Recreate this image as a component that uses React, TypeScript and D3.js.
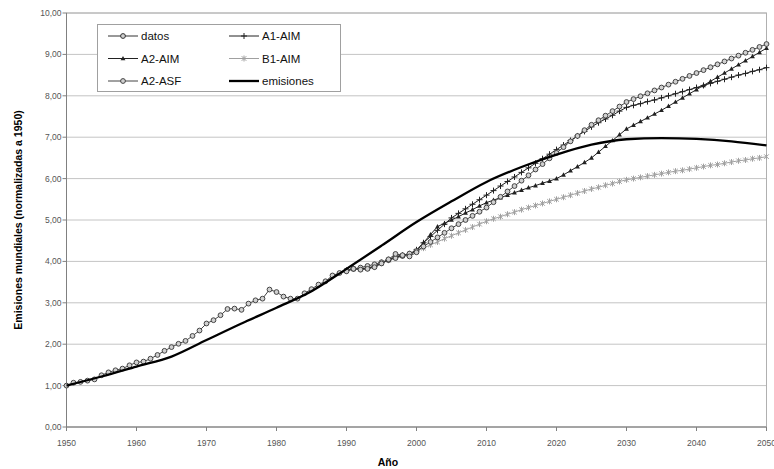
import React from "react";
import * as d3 from "d3";

// Global emissions, normalised to 1950 = 1
const dataYears = d3.range(1950, 2001);
const datos = [
  1.0, 1.07, 1.09, 1.12, 1.15, 1.25, 1.32, 1.37, 1.41, 1.49,
  1.56, 1.58, 1.65, 1.74, 1.84, 1.93, 2.01, 2.08, 2.2, 2.33,
  2.5, 2.58, 2.7, 2.85, 2.86, 2.83, 2.98, 3.06, 3.1, 3.32,
  3.26, 3.15, 3.1, 3.1, 3.23, 3.33, 3.44, 3.52, 3.66, 3.72,
  3.76, 3.82, 3.8, 3.82, 3.86, 3.95, 4.05, 4.18, 4.15, 4.12,
  4.22,
];

const scenarioYears = d3.range(1990, 2051);
const a1Aim = [
  3.78, 3.83, 3.82, 3.84, 3.88, 3.97, 4.04, 4.12, 4.15, 4.18, 4.28,
  4.45, 4.6, 4.75, 4.9, 5.05, 5.16, 5.27, 5.38, 5.49, 5.6,
  5.71, 5.82, 5.93, 6.04, 6.15, 6.26, 6.37, 6.48, 6.59, 6.7,
  6.81, 6.92, 7.03, 7.14, 7.25, 7.35, 7.44, 7.53, 7.63, 7.72,
  7.77, 7.81, 7.86, 7.9, 7.95, 8.0, 8.05, 8.1, 8.15, 8.2,
  8.25, 8.3, 8.35, 8.4, 8.45, 8.5, 8.54, 8.59, 8.63, 8.68,
];
const a2Aim = [
  3.78, 3.82, 3.81, 3.83, 3.87, 3.96, 4.03, 4.1, 4.14, 4.17, 4.25,
  4.45, 4.65, 4.84, 4.92, 5.0, 5.08, 5.17, 5.25, 5.34, 5.42,
  5.48, 5.54, 5.6, 5.66, 5.72, 5.78, 5.83, 5.89, 5.94, 6.0,
  6.09, 6.19, 6.29, 6.39, 6.5, 6.64, 6.78, 6.92, 7.06, 7.2,
  7.29, 7.38, 7.47, 7.56, 7.65, 7.75, 7.85, 7.95, 8.05, 8.15,
  8.25, 8.35, 8.45, 8.55, 8.65, 8.75, 8.85, 8.95, 9.05, 9.15,
];
const b1Aim = [
  3.78, 3.82, 3.81, 3.83, 3.87, 3.96, 4.03, 4.1, 4.14, 4.17, 4.25,
  4.32, 4.4, 4.47, 4.55, 4.62, 4.69, 4.76, 4.83, 4.9, 4.97,
  5.03, 5.08, 5.14, 5.19, 5.25, 5.3, 5.35, 5.4, 5.45, 5.5,
  5.55, 5.6, 5.65, 5.7, 5.75, 5.79, 5.84, 5.88, 5.93, 5.97,
  6.0, 6.03, 6.06, 6.09, 6.12, 6.15, 6.18, 6.2, 6.23, 6.26,
  6.29, 6.32, 6.34, 6.37, 6.4, 6.43, 6.45, 6.48, 6.5, 6.53,
];
const a2Asf = [
  3.78, 3.82, 3.85, 3.89, 3.93, 3.98, 4.03, 4.08, 4.13, 4.19, 4.25,
  4.36, 4.47, 4.58, 4.69, 4.8, 4.9, 5.0, 5.1, 5.2, 5.3,
  5.43, 5.56, 5.69, 5.82, 5.95, 6.08, 6.22, 6.35, 6.49, 6.62,
  6.76, 6.9, 7.03, 7.17, 7.3, 7.41, 7.52, 7.63, 7.74, 7.85,
  7.92, 7.99, 8.06, 8.13, 8.2, 8.27, 8.34, 8.41, 8.48, 8.55,
  8.62, 8.69, 8.76, 8.83, 8.9, 8.97, 9.04, 9.11, 9.18, 9.25,
];

// Smooth emissions curve (5-year points)
const emisionesYears = d3.range(1950, 2051, 5);
const emisiones = [
  1.0, 1.22, 1.46, 1.7, 2.1, 2.5, 2.88, 3.28, 3.82, 4.38, 4.95,
  5.45, 5.92, 6.28, 6.58, 6.82, 6.95, 6.98, 6.96, 6.9, 6.8,
];

const yTicks = d3.range(0, 11);
const xTicks = d3.range(1950, 2051, 10);

const FONT = "'Liberation Sans', Arial, sans-serif";
const W = 774;
const H = 469;

type MarkerKind = "circle" | "plus" | "triangle" | "cross" | "none";

function Marker({ kind, x, y, color }: { kind: MarkerKind; x: number; y: number; color: string }) {
  if (kind === "circle")
    return <circle cx={x} cy={y} r={2.4} fill="#d0d0d0" stroke={color} strokeWidth={1} />;
  if (kind === "plus")
    return (
      <path d={`M${x - 3},${y}H${x + 3}M${x},${y - 3}V${y + 3}`} stroke={color} strokeWidth={1} />
    );
  if (kind === "triangle")
    return <path d={`M${x},${y - 2.6}L${x + 2.4},${y + 1.8}L${x - 2.4},${y + 1.8}Z`} fill={color} />;
  if (kind === "cross")
    return (
      <path
        d={`M${x - 2.3},${y - 2.3}L${x + 2.3},${y + 2.3}M${x - 2.3},${y + 2.3}L${x + 2.3},${y - 2.3}M${x},${y - 3}V${y + 3}`}
        stroke={color}
        strokeWidth={1}
      />
    );
  return null;
}

export default function App() {
  const x = d3.scaleLinear().domain([1950, 2050]).range([66.5, 766.5]);
  const y = d3.scaleLinear().domain([0, 10]).range([427, 13]);
  const fmt = (v: number) => v.toFixed(2).replace(".", ",");

  const line = d3
    .line<[number, number]>()
    .x((d) => x(d[0]))
    .y((d) => y(d[1]));
  const smooth = d3
    .line<[number, number]>()
    .x((d) => x(d[0]))
    .y((d) => y(d[1]))
    .curve(d3.curveMonotoneX);

  const zip = (xs: number[], vs: number[]) => xs.map((v, i) => [v, vs[i]] as [number, number]);

  const series: { name: string; pts: [number, number][]; color: string; marker: MarkerKind }[] = [
    { name: "B1-AIM", pts: zip(scenarioYears, b1Aim), color: "#a0a0a0", marker: "cross" },
    { name: "A2-AIM", pts: zip(scenarioYears, a2Aim), color: "#222", marker: "triangle" },
    { name: "A1-AIM", pts: zip(scenarioYears, a1Aim), color: "#222", marker: "plus" },
    { name: "A2-ASF", pts: zip(scenarioYears, a2Asf), color: "#444", marker: "circle" },
    { name: "datos", pts: zip(dataYears, datos), color: "#444", marker: "circle" },
  ];

  const legendItems: { name: string; color: string; marker: MarkerKind; thick?: boolean }[] = [
    { name: "datos", color: "#333", marker: "circle" },
    { name: "A1-AIM", color: "#222", marker: "plus" },
    { name: "A2-AIM", color: "#222", marker: "triangle" },
    { name: "B1-AIM", color: "#a0a0a0", marker: "cross" },
    { name: "A2-ASF", color: "#444", marker: "circle" },
    { name: "emisiones", color: "#000", marker: "none", thick: true },
  ];

  const plotL = x(1950);
  const plotR = x(2050);
  const plotT = y(10);
  const plotB = y(0);

  return (
    <svg width={W} height={H} style={{ display: "block", position: "absolute", left: 0, top: 0 }} fontFamily={FONT}>
      <rect width={W} height={H} fill="#fff" />
      {/* gridlines */}
      {yTicks.map((t) => (
        <line key={t} x1={plotL} x2={plotR} y1={y(t)} y2={y(t)} stroke="#c4c4c4" strokeWidth={1} />
      ))}
      <rect x={plotL} y={plotT} width={plotR - plotL} height={plotB - plotT} fill="none" stroke="#b0b0b0" />
      {/* axes */}
      <line x1={plotL} x2={plotL} y1={plotT} y2={plotB} stroke="#808080" />
      <line x1={plotL} x2={plotR} y1={plotB} y2={plotB} stroke="#808080" />
      {yTicks.map((t) => (
        <g key={t}>
          <line x1={plotL - 4} x2={plotL} y1={y(t)} y2={y(t)} stroke="#808080" />
          <text x={plotL - 5} y={y(t)} dy="0.35em" textAnchor="end" fontSize={8.5} fill="#555">
            {fmt(t)}
          </text>
        </g>
      ))}
      {xTicks.map((t) => (
        <g key={t}>
          <line x1={x(t)} x2={x(t)} y1={plotB} y2={plotB + 4} stroke="#808080" />
          <text x={x(t)} y={443} dy="0.35em" textAnchor="middle" fontSize={8.5} fill="#555">
            {t}
          </text>
        </g>
      ))}
      <text x={388} y={462} dy="0.35em" textAnchor="middle" fontSize={10.5} fontWeight="bold">
        Año
      </text>
      <text
        transform={`translate(18,${(plotT + plotB) / 2}) rotate(-90)`}
        textAnchor="middle"
        dy="0.35em"
        fontSize={10.5}
        fontWeight="bold"
      >
        Emisiones mundiales (normalizadas a 1950)
      </text>

      {/* series */}
      {series.map((s) => (
        <g key={s.name}>
          <path d={line(s.pts) ?? ""} fill="none" stroke={s.color} strokeWidth={1} />
          {s.pts.map((p, i) => (
            <Marker key={i} kind={s.marker} x={x(p[0])} y={y(p[1])} color={s.color} />
          ))}
        </g>
      ))}
      <path d={smooth(zip(emisionesYears, emisiones)) ?? ""} fill="none" stroke="#000" strokeWidth={2.3} />

      {/* legend */}
      <g>
        <rect x={97.5} y={24.5} width={243} height={67} fill="#fff" stroke="#a0a0a0" />
        {legendItems.map((it, i) => {
          const col = i % 2;
          const row = Math.floor(i / 2);
          const lx = col === 0 ? 108 : 229;
          const ly = 36 + row * 22.5;
          return (
            <g key={it.name}>
              <line x1={lx} x2={lx + 30} y1={ly} y2={ly} stroke={it.color} strokeWidth={it.thick ? 2.3 : 1} />
              <Marker kind={it.marker} x={lx + 15} y={ly} color={it.color} />
              <text x={lx + 33} y={ly} dy="0.35em" fontSize={11.5} fill="#111">
                {it.name}
              </text>
            </g>
          );
        })}
      </g>
    </svg>
  );
}
